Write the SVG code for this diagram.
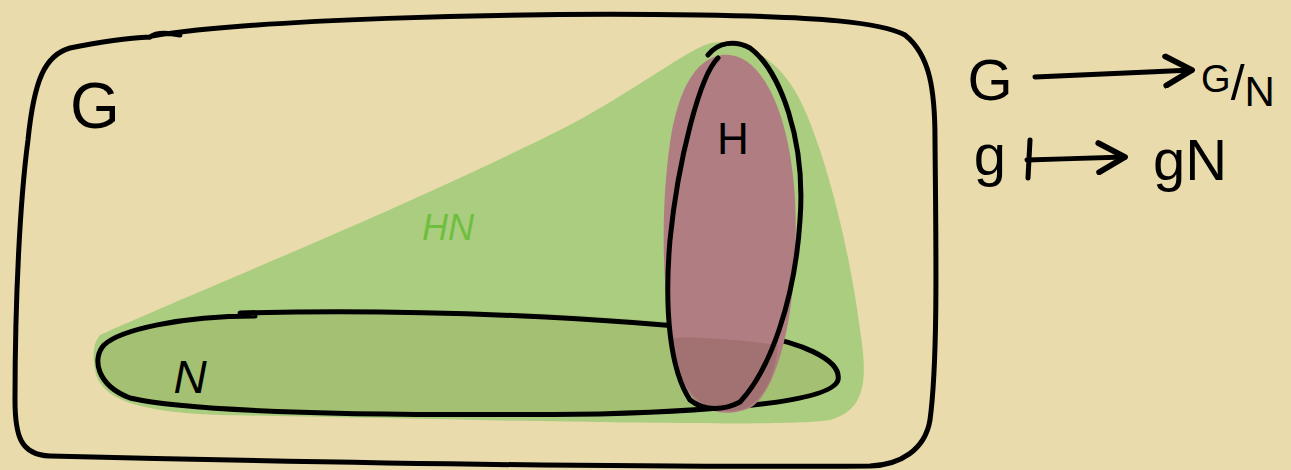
<svg xmlns="http://www.w3.org/2000/svg" width="1291" height="470" viewBox="0 0 1291 470">
<style>
.ink{fill:none;stroke:#000;stroke-width:5;stroke-linecap:round;stroke-linejoin:round}
.lbl{font-family:"Liberation Sans","DejaVu Sans",sans-serif;fill:#000}
</style>
<defs>
<marker id="ah" viewBox="0 0 12 12" refX="10" refY="6" markerWidth="7" markerHeight="7" orient="auto" markerUnits="strokeWidth">
<path d="M1,1 L10,6 L1,11" fill="none" stroke="#000" stroke-width="2" stroke-linecap="round" stroke-linejoin="round"/>
</marker>
</defs>
<rect width="1291" height="470" fill="#e9dbab"/>
<g id="HN">
<path d="M100,335 C200,290 400,210 560,130 C620,100 680,55 705,45 C730,35 775,50 800,100 C825,150 850,250 860,330 C868,380 866,410 830,420 C780,428 500,420 220,415 C140,412 100,400 95,370 C92,352 94,342 100,335 Z" fill="#abcd80"/>
<text x="448" y="240" font-family="Liberation Sans,sans-serif" font-size="36" font-style="italic" fill="#6fbf3f" text-anchor="middle">HN</text>
</g>
<g id="N">
<path d="M250,312 C400,306 600,312 740,330 C810,340 842,360 838,380 C834,400 760,410 600,414 C450,418 250,416 150,402 C105,395 95,375 98,358 C104,335 170,320 250,312 Z" fill="#a3c073"/>
<path class="ink" d="M255,316 C180,316 120,330 104,345 C92,358 96,385 130,398 C200,414 400,416 600,414 C740,410 832,400 838,380 C842,360 800,340 740,333 C620,318 420,308 240,313" stroke-width="4.5"/>
<text class="lbl" x="190" y="393" font-size="46" font-style="italic" text-anchor="middle">N</text>
</g>
<g id="H">
<path d="M722,55 C760,50 790,110 795,200 C800,300 780,390 750,408 C720,420 690,410 678,370 C660,300 660,200 672,130 C682,80 700,58 722,55 Z" fill="#b07d82"/>
<path d="M668,338 C700,336 740,340 778,345 C775,380 760,405 740,410 C710,415 690,400 678,370 Z" fill="#a17271"/>
<path class="ink" d="M718,58 C700,75 678,160 670,240 C664,310 670,370 690,400 C705,412 725,410 740,402 C770,370 795,300 800,220 C806,140 780,70 750,48 C735,40 718,42 708,55"/>
<text class="lbl" x="733" y="154" font-size="44" text-anchor="middle">H</text>
</g>
<g id="G">
<path class="ink" d="M180,35 C165,32 155,33 150,37 M152,36 C250,20 500,12 700,15 C820,17 880,22 905,35 C930,55 935,90 935,140 C936,250 938,360 930,420 C925,450 900,465 870,466 C600,468 300,462 50,456 C20,455 15,435 15,400 C15,300 20,200 28,140 C34,80 45,55 70,48 C100,42 130,38 150,37"/>
<text class="lbl" x="95" y="128" font-size="64" text-anchor="middle">G</text>
</g>
<g id="map">
<text class="lbl" x="990" y="100" font-size="58" text-anchor="middle">G</text>
<text class="lbl" x="1238" y="100" font-size="50" text-anchor="middle"><tspan font-size="38" dy="-8">G</tspan><tspan dy="8">/</tspan><tspan font-size="42" dy="6">N</tspan></text>
<text class="lbl" x="990" y="175" font-size="58" text-anchor="middle">g</text>
<text class="lbl" x="1190" y="180" font-size="58" text-anchor="middle">gN</text>
</g>
<g id="connectors">
<path class="ink" d="M1035,77 C1090,75 1140,72 1192,70" marker-end="url(#ah)" stroke-width="4.5"/>
<path class="ink" d="M1027,160 C1060,159 1090,158 1125,157" marker-end="url(#ah)" stroke-width="4.5"/>
<path class="ink" d="M1030,140 L1028,178" stroke-width="4.5"/>
</g>
</svg>
